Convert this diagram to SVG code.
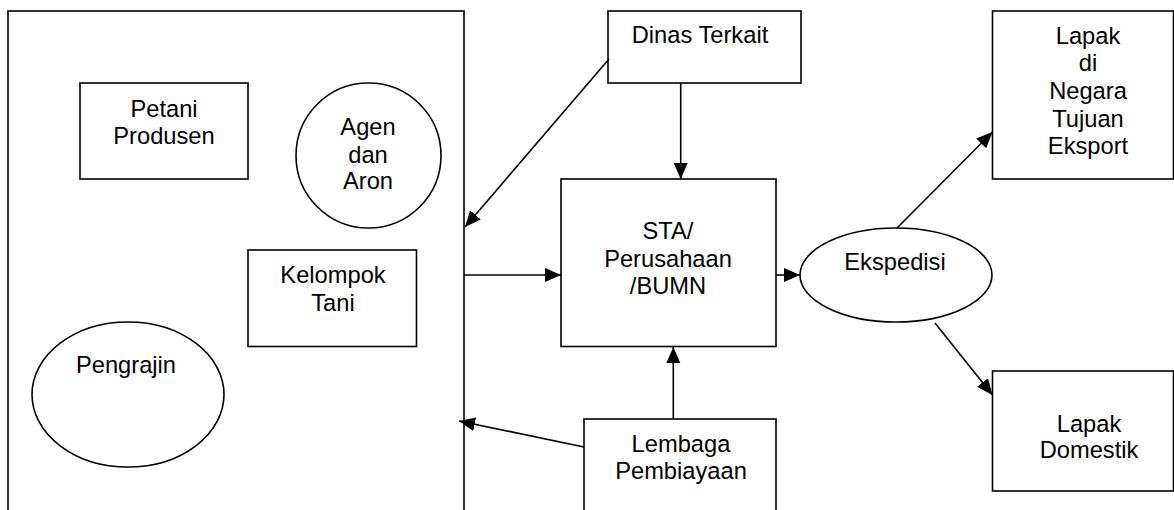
<svg xmlns="http://www.w3.org/2000/svg" width="1174" height="510" viewBox="0 0 1174 510">
  <style>
    .shape { fill: #ffffff; stroke: #000000; stroke-width: 1.6; }
    .lbl { font-family: "Liberation Sans", Arial, sans-serif; font-size: 23.7px; fill: #000000; text-anchor: middle; }
    .conn { stroke: #000000; stroke-width: 1.6; fill: none; marker-end: url(#arrow); }
  </style>
  <defs>
    <marker id="arrow" markerUnits="userSpaceOnUse" markerWidth="17" markerHeight="15" refX="16" refY="7" orient="auto">
      <path d="M0,0 L16,7 L0,14 z" fill="#000000"/>
    </marker>
  </defs>
  <rect width="1174" height="510" fill="#ffffff"/>

  <!-- producer group container -->
  <g id="producer-group">
    <rect class="shape" x="8" y="11" width="456" height="520"/>
  </g>
  <g id="petani-produsen">
    <rect class="shape" x="80" y="83" width="168" height="96"/>
    <text class="lbl" x="164" y="117">Petani</text>
    <text class="lbl" x="164" y="144">Produsen</text>
  </g>
  <g id="agen-aron">
    <circle class="shape" cx="368.5" cy="155.5" r="72.5"/>
    <text class="lbl" x="368" y="135">Agen</text>
    <text class="lbl" x="368" y="163">dan</text>
    <text class="lbl" x="368" y="189">Aron</text>
  </g>
  <g id="kelompok-tani">
    <rect class="shape" x="248" y="250" width="168.5" height="96.5"/>
    <text class="lbl" x="333" y="283">Kelompok</text>
    <text class="lbl" x="333" y="311">Tani</text>
  </g>
  <g id="pengrajin">
    <ellipse class="shape" cx="128" cy="394.5" rx="96" ry="72.5"/>
    <text class="lbl" x="126" y="373">Pengrajin</text>
  </g>

  <g id="dinas-terkait">
    <rect class="shape" x="608" y="11" width="193" height="72"/>
    <text class="lbl" x="700" y="43">Dinas Terkait</text>
  </g>
  <g id="sta-perusahaan-bumn">
    <rect class="shape" x="561" y="179" width="215" height="167.5"/>
    <text class="lbl" x="668" y="239">STA/</text>
    <text class="lbl" x="668" y="267">Perusahaan</text>
    <text class="lbl" x="668" y="294">/BUMN</text>
  </g>
  <g id="lembaga-pembiayaan">
    <rect class="shape" x="584" y="419" width="192" height="110"/>
    <text class="lbl" x="681" y="452">Lembaga</text>
    <text class="lbl" x="681" y="479">Pembiayaan</text>
  </g>
  <g id="ekspedisi">
    <ellipse class="shape" cx="896" cy="275" rx="96" ry="47"/>
    <text class="lbl" x="895" y="270">Ekspedisi</text>
  </g>
  <g id="lapak-ekspor">
    <rect class="shape" x="992.5" y="11" width="181" height="168"/>
    <text class="lbl" x="1088" y="44">Lapak</text>
    <text class="lbl" x="1088" y="71">di</text>
    <text class="lbl" x="1088" y="99">Negara</text>
    <text class="lbl" x="1088" y="127">Tujuan</text>
    <text class="lbl" x="1088" y="154">Eksport</text>
  </g>
  <g id="lapak-domestik">
    <rect class="shape" x="992.5" y="371" width="181" height="120"/>
    <text class="lbl" x="1089" y="432">Lapak</text>
    <text class="lbl" x="1089" y="458">Domestik</text>
  </g>

  <!-- connectors -->
  <g id="connectors">
    <line class="conn" x1="680.7" y1="83" x2="680.7" y2="179"/>
    <line class="conn" x1="609" y1="59" x2="465" y2="227"/>
    <line class="conn" x1="464" y1="275" x2="561" y2="275"/>
    <line class="conn" x1="673.3" y1="419" x2="673.3" y2="347"/>
    <line class="conn" x1="584" y1="447" x2="459" y2="421"/>
    <line class="conn" x1="776" y1="275" x2="800" y2="275"/>
    <line class="conn" x1="897" y1="228" x2="992.5" y2="132"/>
    <line class="conn" x1="935" y1="323" x2="992.5" y2="395"/>
  </g>
</svg>
